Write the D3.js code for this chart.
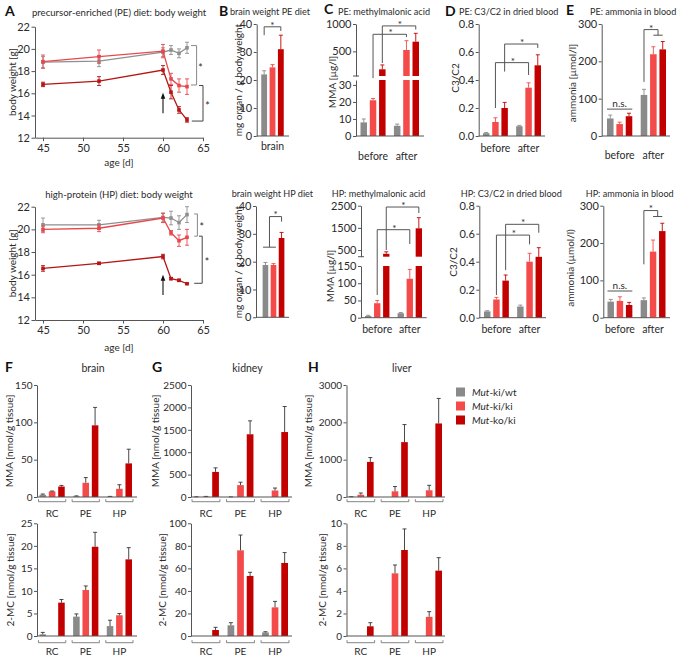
<!DOCTYPE html>
<html><head><meta charset="utf-8">
<script src="https://cdn.jsdelivr.net/npm/d3@7"></script>
<style>
body{margin:0;background:#fff}
svg{display:block}
</style></head><body>
<script>
// ---------------- DATA ----------------
const genotypes=["ki/wt","ki/ki","ko/ki"];
const ageDays=[45,52,60,61,62,63];
const ageTicks=[45,50,55,60,65];
const bwTicks=[12,14,16,18,20,22];
// PE diet body weight
const peBW_kiwt=[18.8,18.9,19.7,19.9,19.6,20.1];
const peBW_kiwt_sem=[0.5,0.5,0.4,0.4,0.4,0.5];
const peBW_kiki=[18.85,19.3,19.8,17.3,16.7,16.6];
const peBW_kiki_sem=[0.6,0.6,0.6,0.5,0.6,0.7];
const peBW_koki=[16.8,17.1,18.1,16.1,14.5,13.6];
const peBW_koki_sem=[0.2,0.4,0.4,0.6,0.3,0.2];
// HP diet body weight
const hpBW_kiwt=[20.4,20.4,21.05,21.0,20.6,21.3];
const hpBW_kiwt_sem=[0.6,0.4,0.4,0.6,0.6,0.7];
const hpBW_kiki=[20.0,20.1,21.0,19.7,19.0,19.3];
const hpBW_kiki_sem=[0.3,0.3,0.4,0.2,0.5,0.7];
const hpBW_koki=[16.55,17.0,17.6,15.65,15.5,15.2];
const hpBW_koki_sem=[0.25,0.1,0.2,0.1,0.1,0.05];
// brain weight
const peBrain=[22,24.5,31], peBrain_sem=[1.3,1,5];
const hpBrain=[18.8,18.8,28.5], hpBrain_sem=[0.9,0.5,2];
const timepoints=["before","after"];
// MMA in blood
const peMMA_before=[8,21,172], peMMA_before_sem=[2,1,80];
const peMMA_after=[6,525,677], peMMA_after_sem=[1,170,153];
const hpMMA_before=[5,42,330], hpMMA_before_sem=[2,8,90];
const hpMMA_after=[13,113,1480], hpMMA_after_sem=[2,27,480];
// C3/C2
const peC3_before=[0.02,0.10,0.20], peC3_before_sem=[0.005,0.03,0.04];
const peC3_after=[0.07,0.345,0.505], peC3_after_sem=[0.006,0.035,0.075];
const hpC3_before=[0.045,0.13,0.265], hpC3_before_sem=[0.005,0.015,0.04];
const hpC3_after=[0.08,0.40,0.435], hpC3_after_sem=[0.01,0.06,0.065];
// ammonia
const peNH3_before=[47,32,53], peNH3_before_sem=[9,5,8];
const peNH3_after=[110,219,232], peNH3_after_sem=[15,20,21];
const hpNH3_before=[43,45,34], hpNH3_before_sem=[6,11,7];
const hpNH3_after=[47,177,232], hpNH3_after_sem=[6,31,21];
// tissues
const diets=["RC","PE","HP"];
const brainMMA=[[3,7.5,14],[1,19,96],[0.5,11,45]];
const brainMMA_sem=[[1,0.5,1.5],[0.5,7,24],[0.3,5.4,19]];
const kidneyMMA=[[3,10,560],[2,265,1400],[0,145,1450]];
const kidneyMMA_sem=[[2,3,90],[1,65,300],[0,55,570]];
const liverMMA=[[5,60,940],[0,152,1470],[0,180,1970]];
const liverMMA_sem=[[3,47,116],[0,128,470],[0,133,670]];
const brain2MC=[[0.37,0,7.4],[4.3,10.2,19.8],[2.2,4.6,17]];
const brain2MC_sem=[[0.43,0,0.7],[0.6,0.9,3.2],[1.3,0.4,2.6]];
const kidney2MC=[[0,0,5.3],[9.5,76,53.3],[3.2,25.4,64.8]];
const kidney2MC_sem=[[0,0,2.4],[2.3,13.6,3.2],[0.6,5.3,9.2]];
const liver2MC=[[0,0,0.86],[0,5.56,7.63],[0,1.7,5.8]];
const liver2MC_sem=[[0,0,0.32],[0,0.74,1.87],[0,0.46,1.15]];

// ---------------- STYLE ----------------
const FONT="Lato, 'Open Sans', sans-serif";
const BAR=["#8a8a8a","#f54a4a","#c20000"];
const LIN=["#8f8f8f","#e8484d","#b51515"];
const INK="#2b2b2b", AXC="#555";

const svg=d3.select("body").append("svg").attr("width",683).attr("height",656)
  .attr("font-family",FONT);

function txt(x,y,s,o={}){
  const t=svg.append("text").attr("x",x).attr("y",y).text(s)
    .attr("font-size",o.size||10).attr("fill",o.fill||INK)
    .attr("text-anchor",o.anchor||"start");
  if(o.weight) t.attr("font-weight",o.weight);
  return t;
}
function ylab(cx,cy,s,size){
  const x=cx+3.5;
  svg.append("text").attr("x",x).attr("y",cy).attr("transform",`rotate(-90,${x},${cy})`)
    .attr("text-anchor","middle").attr("font-size",size||10).attr("fill",INK).text(s);
}
function styleAxis(g,fs){
  g.attr("font-family",FONT);
  g.select(".domain").attr("stroke",AXC);
  g.selectAll(".tick line").attr("stroke",AXC);
  g.selectAll(".tick text").attr("fill",INK).attr("font-size",fs);
}
function ln(x1,y1,x2,y2,col,w){
  svg.append("line").attr("x1",x1).attr("y1",y1).attr("x2",x2).attr("y2",y2)
    .attr("stroke",col||AXC).attr("stroke-width",w||1);
}
function star(x,yc,size){
  const fs=size||10;
  svg.append("text").attr("x",x).attr("y",yc+0.57*fs).attr("text-anchor","middle")
    .attr("font-size",fs).attr("fill",INK).text("*");
}

// ---------------- LINE PANELS ----------------
function linePanel(c){
  const x=d3.scaleLinear().domain([44,65]).range([c.left,c.right]);
  const y=d3.scaleLinear().domain([12,22]).range([c.bottom,c.top]);
  c.series.forEach((s,i)=>{
    const pts=ageDays.map((d,j)=>({d,v:s.v[j],e:s.e[j]}));
    const col=LIN[i];
    svg.append("path").datum(pts).attr("d",d3.line().x(p=>x(p.d)).y(p=>y(p.v)))
      .attr("fill","none").attr("stroke",col).attr("stroke-width",1.3);
    pts.forEach(p=>{
      ln(x(p.d),y(p.v-p.e),x(p.d),y(p.v+p.e),col,0.9);
      ln(x(p.d)-2,y(p.v-p.e),x(p.d)+2,y(p.v-p.e),col,0.9);
      ln(x(p.d)-2,y(p.v+p.e),x(p.d)+2,y(p.v+p.e),col,0.9);
    });
    svg.append("g").selectAll("rect").data(pts).join("rect")
      .attr("x",p=>x(p.d)-1.8).attr("y",p=>y(p.v)-1.8).attr("width",3.6).attr("height",3.6)
      .attr("fill",col);
  });
  const ya=svg.append("g").attr("transform",`translate(${c.left},0)`)
    .call(d3.axisLeft(y).tickValues(bwTicks).tickSize(3.5).tickPadding(1.5).tickSizeOuter(0));
  styleAxis(ya,11);
  const xa=svg.append("g").attr("transform",`translate(0,${c.bottom})`)
    .call(d3.axisBottom(x).tickValues(ageTicks).tickSize(3.5).tickPadding(3).tickSizeOuter(0));
  styleAxis(xa,11);
  // arrow (diet switch)
  const ax=x(c.arrow[0]), a0=y(c.arrow[1]), a1=y(c.arrow[2]);
  ln(ax,a0,ax,a1+4,"#111",1.1);
  svg.append("path").attr("d",`M${ax},${a1}L${ax-2.3},${a1+6}L${ax+2.3},${a1+6}Z`).attr("fill","#111");
  // significance brackets
  c.sig.forEach(b=>{
    svg.append("path").attr("d",d3.line().x(p=>x(p[0])).y(p=>y(p[1]))(b.pts))
      .attr("fill","none").attr("stroke",b.col||"#666").attr("stroke-width",1);
    star(x(b.star[0]),y(b.star[1]),10.5);
  });
  txt((c.left+c.right)/2,c.titleY,c.title,{anchor:"middle",size:9.6});
  txt((c.left+c.right)/2,c.xlabY,"age [d]",{anchor:"middle",size:10});
  ylab(12.7,(c.top+c.bottom)/2,"body weight [g]",10);
}

linePanel({left:35,right:203,top:26.7,bottom:137.7,titleY:16,xlabY:166,
  title:"precursor-enriched (PE) diet: body weight",
  series:[{v:peBW_kiwt,e:peBW_kiwt_sem},{v:peBW_kiki,e:peBW_kiki_sem},{v:peBW_koki,e:peBW_koki_sem}],
  arrow:[60,14.2,16.05],
  sig:[{pts:[[63.5,20.3],[64.2,20.3],[64.2,16.75],[63.5,16.75]],star:[64.7,18.5],col:"#888"},
       {pts:[[64.5,16.7],[65.0,16.7],[65.0,13.5],[63.6,13.5]],star:[65.55,15.0],col:"#444"}]});
linePanel({left:35,right:203,top:206.7,bottom:320,titleY:198,xlabY:351,
  title:"high-protein (HP) diet: body weight",
  series:[{v:hpBW_kiwt,e:hpBW_kiwt_sem},{v:hpBW_kiki,e:hpBW_kiki_sem},{v:hpBW_koki,e:hpBW_koki_sem}],
  arrow:[60,14.2,16.0],
  sig:[{pts:[[63.9,21.36],[64.3,21.36],[64.3,19.4],[63.9,19.4]],star:[64.85,20.35],col:"#888"},
       {pts:[[64.5,19.4],[64.9,19.4],[64.9,15.24],[63.9,15.24]],star:[65.5,17.3],col:"#444"}]});

// ---------------- BAR PANELS ----------------
function barPanel(c){
  const nG=c.vals.length;
  const x0=d3.scaleBand().domain(d3.range(nG)).range(c.xr).paddingInner(c.p0!=null?c.p0:0.25);
  const x1=d3.scaleBand().domain(d3.range(3)).range([0,x0.bandwidth()]).paddingInner(c.p1!=null?c.p1:0.3);
  const ys=c.segs.map(s=>d3.scaleLinear().domain(s.domain).range(s.range));
  const segOf=v=>(ys.length>1 && v>c.segs[0].domain[1])?1:0;
  const cx=(gi,si)=>x0(gi)+x1.bandwidth()/2+si*x1.step();
  const yy=(v,seg)=>ys[seg==null?segOf(v):seg](v);
  const cap=c.cap||2;
  // bars
  c.vals.forEach((gv,gi)=>gv.forEach((v,si)=>{
    const bx=x0(gi)+x1(si), bw=x1.bandwidth(), col=BAR[si];
    if(v>0){
      if(segOf(v)===0){
        svg.append("rect").attr("x",bx).attr("y",ys[0](v)).attr("width",bw)
          .attr("height",ys[0](0)-ys[0](v)).attr("fill",col);
      }else{
        const lm=c.segs[0].domain[1], um=c.segs[1].domain[0];
        svg.append("rect").attr("x",bx).attr("y",ys[0](lm)).attr("width",bw)
          .attr("height",ys[0](0)-ys[0](lm)).attr("fill",col);
        svg.append("rect").attr("x",bx).attr("y",ys[1](v)).attr("width",bw)
          .attr("height",ys[1](um)-ys[1](v)).attr("fill",col);
      }
    }
    const e=c.errs[gi][si];
    if(e>0){
      const sg=segOf(v), yA=ys[sg](v), yB=ys[sg](v+e), xc=bx+bw/2;
      const ec=c.errCol||col;
      ln(xc,yA,xc,yB,ec,0.9); ln(xc-cap,yB,xc+cap,yB,ec,0.9);
    }
  }));
  // axes
  c.segs.forEach((s,k)=>{
    const a=svg.append("g").attr("transform",`translate(${c.ax},0)`)
      .call(d3.axisLeft(ys[k]).tickValues(s.ticks).tickFormat(d3.format(s.fmt||"d"))
        .tickSize(3).tickPadding(1.5).tickSizeOuter(0));
    styleAxis(a,c.fs||11);
  });
  if(ys.length>1){
    const yb=c.segs[1].range[0];
    ln(c.ax-3,yb,c.ax+3,yb,AXC,1);
  }
  const yz=ys[0](0);
  ln(c.ax,yz,c.end,yz,AXC,1);
  // group labels
  if(c.groups){
    c.groups.forEach((g,gi)=>txt(x0(gi)+x0.bandwidth()/2,c.labY,g,{anchor:"middle",size:c.labSize||10.5}));
  }
  if(c.brackY!=null){
    c.vals.forEach((gv,gi)=>{
      const a=x0(gi)-1, b=x0(gi)+x0.bandwidth()+1, yb=c.brackY;
      svg.append("path").attr("d",`M${a},${yb-2.5}L${a},${yb}L${b},${yb}L${b},${yb-2.5}`)
        .attr("fill","none").attr("stroke","#777").attr("stroke-width",0.9);
    });
  }
  // annotations
  (c.ann||[]).forEach(a=>{
    if(a.pts){
      svg.append("path").attr("d",d3.line().x(p=>cx(p[0],p[1])).y(p=>yy(p[2],p[3]))(a.pts))
        .attr("fill","none").attr("stroke","#555").attr("stroke-width",1);
    }
    if(a.star){
      const s=a.star; star(cx(s[0],s[1]),yy(s[2],s[3])-3.8,10);
    }
    if(a.ns){
      const s=a.ns; txt(cx(s[0],s[1]),yy(s[2],s[3])-2.5,"n.s.",{anchor:"middle",size:10});
    }
  });
}

// B: brain weight
barPanel({vals:[peBrain],errs:[peBrain_sem],xr:[257.5,287.5],ax:256.7,end:289,p1:0.3,
  segs:[{domain:[0,40],range:[136,24],ticks:[0,10,20,30,40]}],groups:["brain"],labY:150,
  ann:[{pts:[[0,0,36],[0,0,39],[0,2,39],[0,2,37.5]],star:[0,1,39]}]});
barPanel({vals:[hpBrain],errs:[hpBrain_sem],xr:[259,288],ax:256,end:289,p1:0.3,
  segs:[{domain:[0,40],range:[317.3,206],ticks:[0,10,20,30,40]}],
  ann:[{pts:[[0,-0.3,25.2],[0,1.3,25.2]]},
       {pts:[[0,0.5,25.2],[0,0.5,36.2],[0,2,36.2],[0,2,34.4]],star:[0,1.25,36.2]}]});

// C: MMA
barPanel({vals:[peMMA_before,peMMA_after],errs:[peMMA_before_sem,peMMA_after_sem],
  xr:[360.5,419],ax:356,end:424,groups:timepoints,labY:160,
  segs:[{domain:[0,32.9],range:[136,80],ticks:[0,10,20,30]},
        {domain:[50,1000],range:[76,24],ticks:[500,1000]}],
  ann:[{pts:[[0,1,34,0],[0,1,812,1],[1,1,812,1],[1,1,762,1]],star:[0,2.9,812,1]},
       {pts:[[0,2,287,1],[0,2,965,1],[1,2,965,1],[1,2,900,1]],star:[0,3.9,965,1]}]});
barPanel({vals:[hpMMA_before,hpMMA_after],errs:[hpMMA_before_sem,hpMMA_after_sem],
  xr:[365,422],ax:361,end:426.7,groups:timepoints,labY:333,
  segs:[{domain:[0,150],range:[317.7,266],ticks:[0,50,100,150]},
        {domain:[200,2500],range:[256.7,205.7],ticks:[500,1500,2500]}],
  ann:[{pts:[[0,1,66,0],[0,1,1418,1],[1,1,1418,1],[1,1,770,1]],star:[0,2.9,1418,1]},
       {pts:[[0,2,500,1],[0,2,2440,1],[1,2,2440,1],[1,2,2170,1]],star:[0,3.9,2440,1]}]});

// D: C3/C2
barPanel({vals:[peC3_before,peC3_after],errs:[peC3_before_sem,peC3_after_sem],
  xr:[483,541],ax:478.7,end:545,groups:timepoints,labY:152,
  segs:[{domain:[0,0.8],range:[136,24],ticks:[0,0.2,0.4,0.6,0.8],fmt:".1f"}],
  ann:[{pts:[[0,1,0.2],[0,1,0.524],[1,1,0.524],[1,1,0.436]],star:[0,2.9,0.524]},
       {pts:[[0,2,0.46],[0,2,0.657],[1,2,0.657],[1,2,0.629]],star:[0,3.9,0.657]}]});
barPanel({vals:[hpC3_before,hpC3_after],errs:[hpC3_before_sem,hpC3_after_sem],
  xr:[484,542],ax:479.3,end:546,groups:timepoints,labY:333,
  segs:[{domain:[0,0.8],range:[317.7,205.7],ticks:[0,0.2,0.4,0.6,0.8],fmt:".1f"}],
  ann:[{pts:[[0,1,0.162],[0,1,0.59],[1,1,0.59],[1,1,0.524]],star:[0,2.9,0.59]},
       {pts:[[0,2,0.34],[0,2,0.667],[1,2,0.667],[1,2,0.607]],star:[0,3.9,0.667]}]});

// E: ammonia
barPanel({vals:[peNH3_before,peNH3_after],errs:[peNH3_before_sem,peNH3_after_sem],
  xr:[607,666],ax:601.7,end:670,groups:timepoints,labY:159,
  segs:[{domain:[0,300],range:[136,24],ticks:[0,100,200,300]}],
  ann:[{pts:[[0,-0.35,72],[0,2.35,72]],ns:[0,1,72]},
       {pts:[[1,0,145],[1,0,285],[1,1.5,285],[1,1.5,270]],star:[1,0.75,285]},
       {pts:[[1,1,270],[1,2,270]]}]});
barPanel({vals:[hpNH3_before,hpNH3_after],errs:[hpNH3_before_sem,hpNH3_after_sem],
  xr:[607.5,665.5],ax:603.3,end:670,groups:timepoints,labY:333,
  segs:[{domain:[0,300],range:[317.7,205.7],ticks:[0,100,200,300]}],
  ann:[{pts:[[0,-0.35,71.5],[0,2.35,71.5]],ns:[0,1,71.5]},
       {pts:[[1,0,143],[1,0,287],[1,1.5,287],[1,1.5,271]],star:[1,0.75,287]},
       {pts:[[1,1,271],[1,2,271]]}]});

// titles & labels top rows
const T=9.1;
txt(230,14.5,"brain weight PE diet",{size:T});
txt(338,14.5,"PE: methylmalonic acid",{size:T});
txt(459,14.5,"PE: C3/C2 in dried blood",{size:T});
txt(590,14.5,"PE: ammonia in blood",{size:T});
txt(231.7,196.5,"brain weight HP diet",{size:T});
txt(331.7,196.5,"HP: methylmalonic acid",{size:T});
txt(460.7,196.5,"HP: C3/C2 in dried blood",{size:T});
txt(585.7,196.5,"HP: ammonia in blood",{size:T});
ylab(238,80,"mg organ / g body weight",10);
ylab(238,262,"mg organ / g body weight",10);
ylab(332.7,82,"MMA [µg/l]",10);
ylab(330,276,"MMA [µg/l]",10);
ylab(455,78,"C3/C2",10);
ylab(453,262,"C3/C2",10);
ylab(572,83,"ammonia [µmol/l]",10);
ylab(570,268,"ammonia (µmol/l)",10);
[["A",5,16],["B",219,16],["C",324,14],["D",445,16],["E",566,15],["F",5,372],["G",152,372],["H",308,372]]
  .forEach(l=>txt(l[1],l[2],l[0],{size:14,weight:"bold",fill:"#111"}));

// ---------------- TISSUE PANELS ----------------
const tissueCols=[
  {name:"brain",ax:37,xr:[39.5,132],end:137,lab1:9,lab2:10,
   mma:brainMMA,mmaE:brainMMA_sem,mmaT:[0,50,100,150],
   mc:brain2MC,mcE:brain2MC_sem,mcT:[0,5,10,15,20,25]},
  {name:"kidney",ax:191,xr:[193,288],end:292,lab1:155,lab2:162,
   mma:kidneyMMA,mmaE:kidneyMMA_sem,mmaT:[0,500,1000,1500,2000,2500],
   mc:kidney2MC,mcE:kidney2MC_sem,mcT:[0,20,40,60,80,100]},
  {name:"liver",ax:346.5,xr:[348,442],end:445,lab1:308,lab2:322,
   mma:liverMMA,mmaE:liverMMA_sem,mmaT:[0,1000,2000,3000],
   mc:liver2MC,mcE:liver2MC_sem,mcT:[0,2,4,6,8,10]}
];
tissueCols.forEach(t=>{
  barPanel({vals:t.mma,errs:t.mmaE,xr:t.xr,ax:t.ax,end:t.end,groups:diets,labY:517,labSize:10,
    brackY:501.7,fs:10,errCol:"#333",
    segs:[{domain:[0,d3.max(t.mmaT)],range:[497,385],ticks:t.mmaT}]});
  barPanel({vals:t.mc,errs:t.mcE,xr:t.xr,ax:t.ax,end:t.end,groups:diets,labY:655,labSize:10,
    brackY:642.7,fs:10,errCol:"#333",
    segs:[{domain:[0,d3.max(t.mcT)],range:[636,523.3],ticks:t.mcT}]});
  txt((t.ax+t.end)/2+6,372,t.name,{anchor:"middle",size:10.5});
  ylab(t.lab1,441,"MMA [nmol/g tissue]",10);
  ylab(t.lab2,580,"2-MC [nmol/g tissue]",10);
});

// legend
genotypes.forEach((g,i)=>{
  const y=392+i*14;
  svg.append("rect").attr("x",456).attr("y",y-4.5).attr("width",9).attr("height",9).attr("fill",BAR[i]);
  const t=svg.append("text").attr("x",472).attr("y",y+3.5).attr("font-size",10).attr("fill",INK);
  t.append("tspan").attr("font-style","italic").text("Mut");
  t.append("tspan").text("-"+g);
});
</script></body></html>
